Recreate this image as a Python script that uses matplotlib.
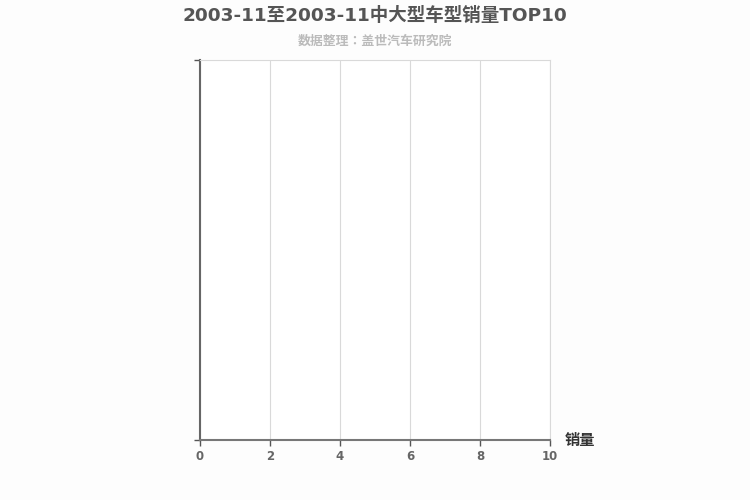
import matplotlib
matplotlib.use("Agg")
import matplotlib.pyplot as plt

plt.rcParams['font.family'] = ['DejaVu Sans', 'Noto Sans CJK SC']

# no data in this period: the chart is empty
models = []
sales = []
x_ticks = [0, 2, 4, 6, 8, 10]

fig = plt.figure(figsize=(7.5, 5), dpi=100, facecolor="#fdfdfd")
ax = fig.add_axes([200 / 750, 60 / 500, 350 / 750, 380 / 500])
ax.set_facecolor("white")

ax.barh(models, sales, color="#5b9bd5")
ax.set_xlim(0, 10)
ax.set_ylim(0, 1)
ax.set_xticks(x_ticks)
ax.set_xticklabels([str(v) for v in x_ticks], fontsize=8.5, fontweight="bold", color="#666666")
ax.set_yticks([0, 1])
ax.set_yticklabels([])
ax.tick_params(axis="y", length=4, color="#555555", width=1)
ax.tick_params(axis="x", length=4, color="#555555", width=1, pad=3)
ax.grid(axis="x", color="#d9d9d9", lw=0.8)
ax.set_axisbelow(True)

for s in ["top", "right"]:
    ax.spines[s].set_color("#d9d9d9")
    ax.spines[s].set_linewidth(0.8)
ax.spines["left"].set_color("#666666")
ax.spines["left"].set_linewidth(1.5)
ax.spines["bottom"].set_color("#777777")
ax.spines["bottom"].set_linewidth(1.5)

fig.text(0.5, 1 - 16 / 500, "2003-11至2003-11中大型车型销量TOP10", ha="center", va="center",
         fontsize=13.3, fontweight="bold", color="#555555")
fig.text(0.5, 1 - 41 / 500, "数据整理：盖世汽车研究院", ha="center", va="center",
         fontsize=9.3, fontweight="bold", color="#bbbbbb",
         family=['Noto Sans CJK JP', 'DejaVu Sans'])
fig.text(565 / 750, 1 - 440 / 500, "销量", ha="left", va="center",
         fontsize=11, fontweight="bold", color="#333333")

fig.savefig("out.png", dpi=100, facecolor=fig.get_facecolor())
